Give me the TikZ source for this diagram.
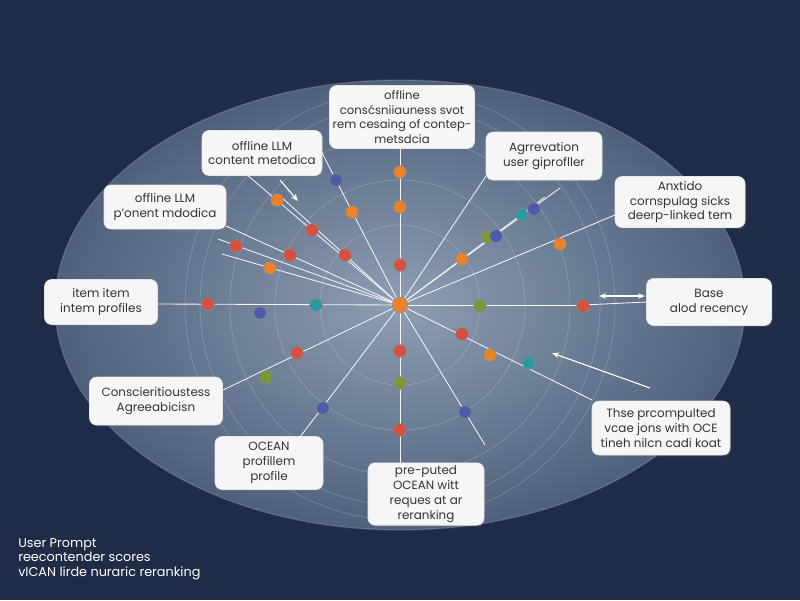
\documentclass[tikz,border=0pt]{standalone}
\usepackage{fontspec}
\setmainfont{Poppins}
\usetikzlibrary{calc,arrows.meta,shadows}
\definecolor{bgnavy}{HTML}{1F2C47}
\definecolor{ellout}{HTML}{4E607C}
\definecolor{ellin}{HTML}{8E9EB4}
\definecolor{boxfill}{HTML}{F6F6F6}
\definecolor{txtgray}{HTML}{333333}
\definecolor{dorange}{HTML}{E8832C}
\definecolor{dred}{HTML}{D6503F}
\definecolor{dblue}{HTML}{4E5BA8}
\definecolor{dteal}{HTML}{2C9A9C}
\definecolor{dolive}{HTML}{7C973A}
\begin{document}
\begin{tikzpicture}[x=0.025cm,y=-0.025cm,
  labelbox/.style={draw=white!80!gray,line width=0.4pt,fill=boxfill,rounded corners=5pt,
    align=center,text=txtgray,font=\fontsize{8.5}{10.6}\selectfont,inner sep=2pt,
    drop shadow={shadow xshift=1pt,shadow yshift=-1pt,opacity=0.25}},
  spoke/.style={draw=white!92!gray,line width=0.6pt},
  ring/.style={draw=white,opacity=0.2,line width=0.5pt},
  dot/.style={circle,minimum size=9pt,inner sep=0pt,draw=black!45,line width=0.3pt},
  wa/.style={draw=white,line width=0.8pt,-{Stealth[length=5pt,width=4pt]}},
  wda/.style={draw=white,line width=0.8pt,{Stealth[length=5pt,width=4pt]}-{Stealth[length=5pt,width=4pt]}}]
\useasboundingbox (0,0) rectangle (800,600);
\fill[bgnavy] (0,0) rectangle (800,600);
\shade[inner color=ellin,outer color=ellout] (400,305) ellipse [x radius=345,y radius=225];
\draw[white,opacity=0.15,line width=1pt] (400,305) ellipse [x radius=345,y radius=225];
\foreach \r in {80,125,170,200,215} \draw[ring] (400,305) circle [radius=\r];

% centre
\node[dot,fill=dorange,minimum size=11pt] (c) at (400,305) {};

% boxes
\node[labelbox,font=\fontsize{8.3}{10.5}\selectfont,minimum width=145*0.025cm,minimum height=63*0.025cm] (b1) at (402,117) {offline\\consćsniiauness svot\\rem cesaing of contep-\\metsdcia};
\node[labelbox,minimum width=120*0.025cm,minimum height=45*0.025cm] (b2) at (262,153) {offline LLM\\content metodica};
\node[labelbox,minimum width=122*0.025cm,minimum height=44*0.025cm] (b3) at (165,207) {offline LLM\\p'onent mdodica};
\node[labelbox,minimum width=113*0.025cm,minimum height=45*0.025cm] (b4) at (101,302) {item item\\intem profiles};
\node[labelbox,minimum width=133*0.025cm,minimum height=48*0.025cm] (b5) at (156,401) {Conscieritioustess\\Agreeabicisn};
\node[labelbox,minimum width=108*0.025cm,minimum height=53*0.025cm] (b6) at (269,463) {OCEAN\\profillem\\profile};
\node[labelbox,minimum width=116*0.025cm,minimum height=57*0.025cm] (b7) at (426,494) {pre-puted\\OCEAN witt\\reques at ar\\reranking};
\node[labelbox,minimum width=116*0.025cm,minimum height=48*0.025cm] (b8) at (544,156) {Agrrevation\\user giprofller};
\node[labelbox,minimum width=130*0.025cm,minimum height=51*0.025cm] (b9) at (680,202) {Anxtido\\cornspulag sicks\\deerp-linked tem};
\node[labelbox,minimum width=125*0.025cm,minimum height=47*0.025cm] (b10) at (709,302) {Base\\alod recency};
\node[labelbox,minimum width=138*0.025cm,minimum height=54*0.025cm] (b11) at (661,428) {Thse prcompulted\\vcae jons with OCE\\tineh nilcn cadi koat};

% spoke end coordinates
\coordinate (e1) at (400,148);
\coordinate (e2) at (320,149);
\coordinate (e3) at (246,174);
\coordinate (e4) at (226,226);
\coordinate (e5) at (218,239);
\coordinate (e6) at (222,254);
\coordinate (e7) at (158,304);
\coordinate (e8) at (223,390);
\coordinate (e9) at (300,437);
\coordinate (e10) at (400,466);
\coordinate (e11) at (485,445);
\coordinate (e12) at (592,400);
\coordinate (e13) at (583,305);
\coordinate (e14) at (615,215);
\coordinate (e15) at (560,188);
\coordinate (e16) at (486,176);
\coordinate (e17) at (545,197);
\coordinate (e18) at (279,195);

\foreach \e in {e1,e2,e3,e4,e5,e6,e7,e8,e9,e10,e11,e12,e13,e14,e15,e16,e17,e18}
  \draw[spoke] (c) -- (\e);
\draw[spoke] (e13) -- (b10.west);

% arrows
\coordinate (a1s) at (280,180); \coordinate (a1e) at (298,201);
\draw[wa] (a1s) -- (a1e);
\coordinate (a2s) at (599,296); \coordinate (a2e) at (645,296);
\draw[wda] (a2s) -- (a2e);
\coordinate (a3s) at (552,353); \coordinate (a3e) at (650,388);
\draw[wa] (a3e) -- (a3s);

% dots
\node[dot,fill=dblue] (d1) at (336,180) {};
\node[dot,fill=dorange] (d2) at (400,172) {};
\node[dot,fill=dorange] (d3) at (277,200) {};
\node[dot,fill=dorange] (d4) at (352,212) {};
\node[dot,fill=dorange] (d5) at (400,207) {};
\node[dot,fill=dred] (d6) at (236,246) {};
\node[dot,fill=dred] (d7) at (312,230) {};
\node[dot,fill=dred] (d8) at (345,255) {};
\node[dot,fill=dred] (d9) at (400,265) {};
\node[dot,fill=dorange] (d10) at (270,268) {};
\node[dot,fill=dred] (d11) at (290,255) {};
\node[dot,fill=dred] (d12) at (208,304) {};
\node[dot,fill=dblue] (d13) at (260,313) {};
\node[dot,fill=dteal] (d14) at (316,305) {};
\node[dot,fill=dolive] (d15) at (480,306) {};
\node[dot,fill=dred] (d16) at (583,306) {};
\node[dot,fill=dorange] (d17) at (462,259) {};
\node[dot,fill=dolive] (d18) at (487,237) {};
\node[dot,fill=dblue] (d19) at (496,236) {};
\node[dot,fill=dteal] (d20) at (522,215) {};
\node[dot,fill=dblue] (d21) at (534,209) {};
\node[dot,fill=dorange] (d22) at (560,244) {};
\node[dot,fill=dred] (d23) at (462,334) {};
\node[dot,fill=dorange] (d24) at (490,355) {};
\node[dot,fill=dteal] (d25) at (529,363) {};
\node[dot,fill=dred] (d26) at (400,351) {};
\node[dot,fill=dolive] (d27) at (400,383) {};
\node[dot,fill=dred] (d28) at (400,430) {};
\node[dot,fill=dred] (d29) at (297,353) {};
\node[dot,fill=dolive] (d30) at (266,377) {};
\node[dot,fill=dblue] (d31) at (323,408) {};
\node[dot,fill=dblue] (d32) at (465,412) {};
\node[dot,fill=dorange,minimum size=11pt] (c2) at (400,305) {};

% legend text
\node[anchor=north west,align=left,text=white,font=\fontsize{9.1}{10.4}\selectfont,inner sep=0pt] (leg) at (18,538) {User Prompt\\reecontender scores\\vICAN lirde nuraric reranking};
\end{tikzpicture}
\end{document}
